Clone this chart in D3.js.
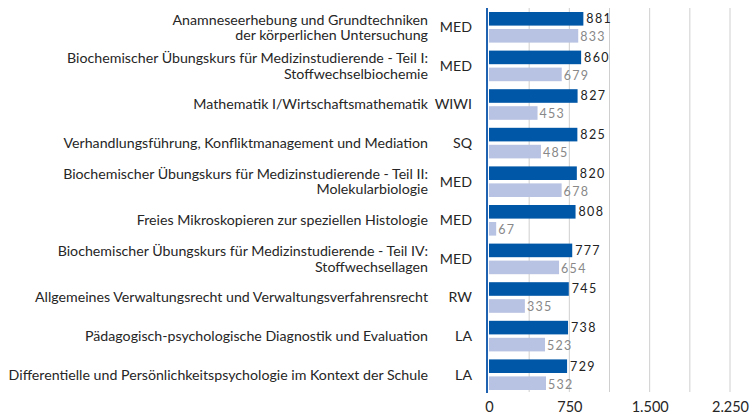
<!DOCTYPE html>
<html>
<head>
<meta charset="utf-8">
<script src="https://cdn.jsdelivr.net/npm/d3@7"></script>
<style>
  body { margin: 0; background: #fff; }
  text { font-family: Lato, "Open Sans", sans-serif; }
</style>
</head>
<body>
<script>
// Course names (lines), faculty codes and the two series
var courses = [
  ["Anamneseerhebung und Grundtechniken", "der körperlichen Untersuchung"],
  ["Biochemischer Übungskurs für Medizinstudierende - Teil I:", "Stoffwechselbiochemie"],
  ["Mathematik I/Wirtschaftsmathematik"],
  ["Verhandlungsführung, Konfliktmanagement und Mediation"],
  ["Biochemischer Übungskurs für Medizinstudierende - Teil II:", "Molekularbiologie"],
  ["Freies Mikroskopieren zur speziellen Histologie"],
  ["Biochemischer Übungskurs für Medizinstudierende - Teil IV:", "Stoffwechsellagen"],
  ["Allgemeines Verwaltungsrecht und Verwaltungsverfahrensrecht"],
  ["Pädagogisch-psychologische Diagnostik und Evaluation"],
  ["Differentielle und Persönlichkeitspsychologie im Kontext der Schule"]
];
var faculties = ["MED", "MED", "WIWI", "SQ", "MED", "MED", "MED", "RW", "LA", "LA"];
var valuesA = [881, 860, 827, 825, 820, 808, 777, 745, 738, 729];
var valuesB = [833, 679, 453, 485, 678, 67, 654, 335, 523, 532];
var tickValues = [0, 750, 1500, 2250];
var gridValues = [375, 750, 1125, 1500, 1875, 2250];

var width = 752, height = 414;
var svg = d3.select("body").append("svg")
    .attr("width", width)
    .attr("height", height);

var x = d3.scaleLinear().domain([0, 2250]).range([489, 730]);
var y = d3.scaleBand().domain(d3.range(courses.length)).range([8, 394]);
var sub = d3.scaleBand().domain([0, 1]).range([4, y.bandwidth() - 4]).paddingInner(0.2);

// gridlines
svg.selectAll(".grid")
  .data(gridValues)
  .enter().append("line")
    .attr("x1", function(d) { return x(d); })
    .attr("x2", function(d) { return x(d); })
    .attr("y1", 8).attr("y2", 392)
    .attr("stroke", "#cfcfcf")
    .attr("stroke-width", 1);

// bars
var rows = svg.selectAll(".row")
  .data(courses)
  .enter().append("g")
    .attr("transform", function(d, i) { return "translate(0," + y(i) + ")"; });

rows.append("rect")
    .attr("x", x(0))
    .attr("y", sub(0))
    .attr("width", function(d, i) { return x(valuesA[i]) - x(0); })
    .attr("height", sub.bandwidth())
    .attr("fill", "#0057a8");

rows.append("rect")
    .attr("x", x(0))
    .attr("y", sub(1))
    .attr("width", function(d, i) { return x(valuesB[i]) - x(0); })
    .attr("height", sub.bandwidth())
    .attr("fill", "#b8c2e2");

rows.append("text")
    .attr("x", function(d, i) { return x(valuesA[i]) + 3; })
    .attr("y", sub(0) + sub.bandwidth() / 2)
    .attr("dy", "0.35em")
    .attr("font-size", 12.5)
    .attr("letter-spacing", 1.3)
    .attr("fill", "#222")
    .text(function(d, i) { return valuesA[i]; });

rows.append("text")
    .attr("x", function(d, i) { return x(valuesB[i]) + 2; })
    .attr("y", sub(1) + sub.bandwidth() / 2 + 1)
    .attr("dy", "0.35em")
    .attr("font-size", 12.5)
    .attr("letter-spacing", 1.3)
    .attr("fill", "#888")
    .text(function(d, i) { return valuesB[i]; });

// course labels
var labels = rows.append("text")
    .attr("text-anchor", "end")
    .attr("x", 428)
    .attr("font-size", 14.2)
    .attr("fill", "#262626");

labels.selectAll("tspan")
  .data(function(d) { return d.map(function(t, k) { return { t: t, k: k, n: d.length }; }); })
  .enter().append("tspan")
    .attr("x", 428)
    .attr("y", function(d) { return y.bandwidth() / 2 + (d.k - (d.n - 1) / 2) * 15.5; })
    .attr("dy", "0.35em")
    .text(function(d) { return d.t; });

// faculty codes
rows.append("text")
    .attr("text-anchor", "end")
    .attr("x", 472)
    .attr("y", y.bandwidth() / 2)
    .attr("dy", "0.35em")
    .attr("font-size", 14.2)
    .attr("fill", "#262626")
    .text(function(d, i) { return faculties[i]; });

// left axis line
svg.append("line")
    .attr("x1", 487).attr("x2", 487)
    .attr("y1", 8).attr("y2", 393)
    .attr("stroke", "#1f63b0")
    .attr("stroke-width", 2);

// x axis tick labels
var xAxis = d3.axisBottom(x)
    .tickValues(tickValues)
    .tickSize(0)
    .tickPadding(0)
    .tickFormat(function(d) { return d3.format(",")(d).replace(/,/g, "."); });

var ax = svg.append("g")
    .attr("transform", "translate(0,402)")
    .call(xAxis);
ax.select(".domain").remove();
ax.selectAll("text")
    .attr("font-size", 14.5)
    .attr("font-family", "Lato, sans-serif")
    .attr("fill", "#262626");
</script>
</body>
</html>
